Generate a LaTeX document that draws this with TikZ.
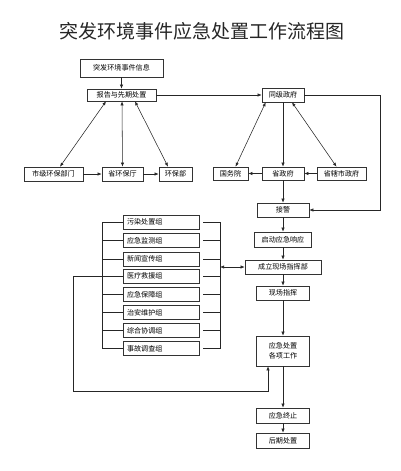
\documentclass[tikz,border=0pt]{standalone}
\usepackage{fontspec}
\newfontfamily\cjk{Noto Sans CJK SC}
\usetikzlibrary{arrows.meta,calc}
\begin{document}
\begin{tikzpicture}[x=1pt,y=-1pt,
  bx/.style={draw=black!80,line width=0.6pt,inner sep=0pt,align=center,
     font=\cjk\fontsize{7.1}{10}\selectfont},
  ln/.style={draw=black!85,line width=0.55pt},
  ar/.style={ln,-{Latex[length=4pt,width=3.2pt]}},
  dar/.style={ln,{Latex[length=4pt,width=3.2pt]}-{Latex[length=4pt,width=3.2pt]}}]
\useasboundingbox (0,0) rectangle (400,471);
\node[font=\cjk\fontsize{19}{22}\selectfont,text=black!85] (title) at (201.5,31.5) {突发环境事件应急处置工作流程图};
% top
\node[bx,minimum width=83pt,minimum height=18pt] (info) at (121.5,68) {突发环境事件信息};
\node[bx,minimum width=69pt,minimum height=12pt] (report) at (121.5,95) {报告与先期处置};
\node[bx,minimum width=42pt,minimum height=14pt] (tongji) at (283,95) {同级政府};
\node[bx,minimum width=35pt,minimum height=13pt] (guowu) at (230.5,173.5) {国务院};
\node[bx,minimum width=42pt,minimum height=13pt] (shengzf) at (283,173.5) {省政府};
\node[bx,minimum width=49pt,minimum height=13pt] (shengxia) at (341.5,173.5) {省辖市政府};
\node[bx,minimum width=59pt,minimum height=14pt] (shiji) at (53.5,174) {市级环保部门};
\node[bx,minimum width=41pt,minimum height=14pt] (shenghb) at (122.5,174) {省环保厅};
\node[bx,minimum width=33pt,minimum height=14pt] (hbb) at (175.5,174) {环保部};
% right column
\node[bx,minimum width=52pt,minimum height=14pt] (jiejing) at (283,210) {接警};
\node[bx,minimum width=57pt,minimum height=15pt] (qidong) at (283,239.5) {启动应急响应};
\node[bx,minimum width=76pt,minimum height=14pt] (chengli) at (283,267) {成立现场指挥部};
\node[bx,minimum width=53pt,minimum height=14pt] (xianchang) at (283,293) {现场指挥};
\node[bx,minimum width=53pt,minimum height=30pt] (yingji) at (283,351) {应急处置\\各项工作};
\node[bx,minimum width=53pt,minimum height=15pt] (zhongzhi) at (283,415.5) {应急终止};
\node[bx,minimum width=53pt,minimum height=15pt] (houqi) at (283,440.5) {后期处置};
% groups
\foreach \i/\y/\t in {1/222/污染处置组,2/240.5/应急监测组,3/259/新闻宣传组,4/276/医疗救援组,
   5/294.5/应急保障组,6/312.5/治安维护组,7/330.5/综合协调组,8/348.5/事故调查组}{
  \node[bx,minimum width=76pt,minimum height=14pt,text width=68pt,align=left] (g\i) at (161,\y) {\t};
}
% connectors top
\draw[ar] (info) -- (report);
\draw[ar] (report.east) -- (report.east -| tongji.west);
\coordinate (rt) at (380,95);
\draw[ar] (tongji.east) -- (rt) |- (jiejing.east);
\draw[dar] ([xshift=4pt]tongji.south west) -- ([xshift=5pt]guowu.north);
\draw[dar] ([xshift=9pt]tongji.south) -- ([xshift=-5pt]shengxia.north);
\draw[ar] (tongji) -- (shengzf);
\draw[ar] (shengzf) -- (guowu);
\draw[ar] (shengxia) -- (shengzf);
\draw[ar] (shengzf) -- (jiejing);
\draw[dar] ([xshift=-15.5pt]report.south) -- ([xshift=6.5pt]shiji.north);
\draw[dar] ([xshift=0.5pt]report.south) -- (shenghb.north);
\draw[dar] ([xshift=13.5pt]report.south) -- ([xshift=-7.5pt]hbb.north);
\draw[ar] (shiji) -- (shenghb);
\draw[ar] (shenghb) -- (hbb);
% right column
\draw[ar] (jiejing) -- (qidong);
\draw[ar] (qidong) -- (chengli);
\draw[ar] (chengli) -- (xianchang);
\draw[ar] (xianchang) -- (yingji);
\draw[ar] (yingji) -- (zhongzhi);
\draw[ar] (zhongzhi) -- (houqi);
% brackets
\draw[ln] ($(g1.west)+(-20,0)$) -- ($(g8.west)+(-20,0)$);
\draw[ln] ($(g1.east)+(21,0)$) -- ($(g8.east)+(21,0)$);
\foreach \i in {1,...,8}{
  \draw[ln] (g\i.west) -- ++(-20,0);
  \draw[ln] ($(g\i.east)+(4,0)$) -- ++(17,0);
}
\coordinate (rb) at (220,267);
\draw[dar] (rb) -- (chengli.west);
\coordinate (m1) at (73,276);
\coordinate (m2) at (73,391);
\draw[ar] (g4.west) -- (m1) -- (m2) -| ([xshift=-15pt]yingji.south);
\end{tikzpicture}
\end{document}
